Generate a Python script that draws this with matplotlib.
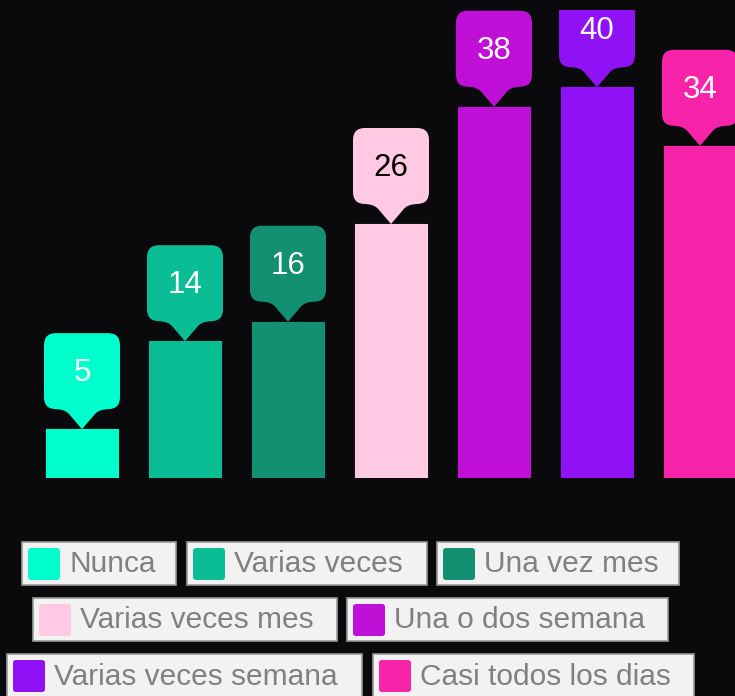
import matplotlib
matplotlib.use("Agg")
import matplotlib.pyplot as plt
import matplotlib.transforms as mtransforms
from matplotlib.patches import FancyBboxPatch, PathPatch, Rectangle
from matplotlib.path import Path

categories = ["Nunca", "Varias veces", "Una vez mes", "Varias veces mes",
              "Una o dos semana", "Varias veces semana", "Casi todos los dias"]
values = [5, 14, 16, 26, 38, 40, 34]
colors = ["#00ffcc", "#0bbd94", "#138f72", "#ffc8e3", "#c00fd6", "#9111f7", "#f724a9"]
label_colors = ["white", "white", "white", "black", "white", "white", "white"]

BG = "#0a0a0c"
W, H = 735, 696

plt.rcParams["font.family"] = ["Liberation Sans", "DejaVu Sans"]

fig = plt.figure(figsize=(W / 100, H / 100), dpi=100, facecolor=BG)
# plot area: baseline at y=478 px, top edge at y=10 px
ax = fig.add_axes([0, (H - 478) / H, 1, 468 / H])
ax.set_facecolor(BG)
ax.set_xlim(-82 / 103, (735 - 82) / 103)
ax.set_ylim(0, 468 / 9.77)
ax.axis("off")

x = list(range(len(values)))
ax.bar(x, values, width=0.7, color=colors, edgecolor=colors, linewidth=0.8)


def callout_path(hw=38, tail=20, box_h=76, r=12, neck=27):
    """Pin-shaped bubble in pixel units, tip at (0, 0)."""
    top = tail + box_h
    verts = [
        (0, 0), (-12, 14), (-16, tail), (-neck, tail),
        (-hw + r, tail), (-hw, tail), (-hw, tail + r),
        (-hw, top - r), (-hw, top), (-hw + r, top),
        (hw - r, top), (hw, top), (hw, top - r),
        (hw, tail + r), (hw, tail), (hw - r, tail),
        (neck, tail), (16, tail), (12, 14), (0, 0),
    ]
    codes = [
        Path.MOVETO, Path.LINETO, Path.CURVE3, Path.CURVE3,
        Path.LINETO, Path.CURVE3, Path.CURVE3,
        Path.LINETO, Path.CURVE3, Path.CURVE3,
        Path.LINETO, Path.CURVE3, Path.CURVE3,
        Path.LINETO, Path.CURVE3, Path.CURVE3,
        Path.LINETO, Path.CURVE3, Path.CURVE3, Path.CLOSEPOLY,
    ]
    return Path(verts, codes)


pin = callout_path()
for xi, v, c, lc in zip(x, values, colors, label_colors):
    offset = mtransforms.ScaledTranslation(xi, v, ax.transData)
    patch = PathPatch(pin, facecolor=c, edgecolor="none",
                      transform=mtransforms.Affine2D() + offset)
    ax.add_patch(patch)
    ax.annotate(str(v), xy=(xi, v), xytext=(0, 56), textcoords="offset pixels",
                ha="center", va="center", fontsize=22.5, color=lc)

# legend boxes: (left, right, top, bottom) in pixels
legend_boxes = [
    (22, 176, 542, 585), (187, 427, 542, 585), (437, 679, 542, 585),
    (33, 337, 598, 641), (347, 668, 598, 641),
    (7, 362, 654, 698), (373, 694, 654, 698),
]


def fx(px):
    return px / W


def fy(py):
    return 1 - py / H


for name, c, (l, r, t, b) in zip(categories, colors, legend_boxes):
    fig.add_artist(Rectangle((fx(l), fy(b)), fx(r - l), (b - t) / H,
                             transform=fig.transFigure, facecolor="#f2f2f2",
                             edgecolor="#9a9a9a", linewidth=1.2))
    sw_top = t + 6
    fig.add_artist(FancyBboxPatch((fx(l + 6), fy(sw_top + 32)), fx(32), 32 / H,
                                  boxstyle="round,pad=0,rounding_size=0.004",
                                  transform=fig.transFigure, facecolor=c,
                                  edgecolor="none"))
    fig.text(fx(l + 47), fy((t + b) / 2 + 1), name, ha="left", va="center",
             fontsize=21.5, color="#808080")

fig.savefig("out.png", dpi=100, facecolor=BG)
